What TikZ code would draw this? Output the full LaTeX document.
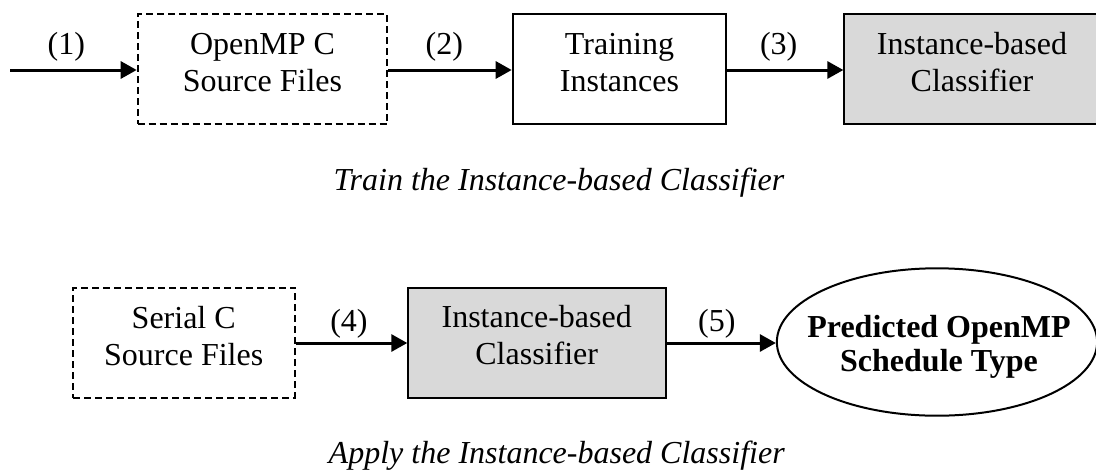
\documentclass[tikz,border=0pt]{standalone}
\usepackage{fontspec}
\setmainfont{Liberation Serif}
\usetikzlibrary{arrows.meta,shapes.geometric}
\definecolor{boxgray}{HTML}{D9D9D9}
\begin{document}
\begin{tikzpicture}[x=1pt,y=-1pt,
  txt/.style={font=\fontsize{32}{36.7}\selectfont, align=center, inner sep=0pt},
  stepbox/.style={draw, line width=2pt, minimum height=110pt, inner sep=0pt},
  dashbox/.style={stepbox, dash pattern=on 7pt off 4pt},
  graybox/.style={stepbox, fill=boxgray},
  conn/.style={line width=3pt, -{Triangle[length=16pt,width=17pt]}},
  lbl/.style={txt},
  caption/.style={font=\fontsize{32}{36.7}\selectfont\itshape, inner sep=0pt}]
\useasboundingbox (0,0) rectangle (1096,472);
\clip (0,0) rectangle (1096,472);
% top row
\coordinate (start) at (10,70);
\node[dashbox, minimum width=249.6pt] (src1) at (262.5,69.3) {};
\node[txt] (src1t) at (262.5,62.7) {OpenMP C\\Source Files};
\node[stepbox, minimum width=213pt] (train) at (619.2,69.3) {};
\node[txt] (traint) at (619.5,62.4) {Training\\Instances};
\node[graybox, minimum width=253.7pt] (clf1) at (971.2,69.3) {};
\node[txt] (clf1t) at (972,62.4) {Instance-based\\Classifier};
\draw[conn] (start) -- (src1.west |- start) node[lbl, midway, xshift=-7pt, yshift=23.3pt] {(1)};
\draw[conn] (src1.east |- start) -- (train.west |- start) node[lbl, midway, xshift=-5.7pt, yshift=23.3pt] {(2)};
\draw[conn] (train.east |- start) -- (clf1.west |- start) node[lbl, midway, xshift=-6.3pt, yshift=23.3pt] {(3)};
\node[caption] (cap1) at (559,182.5) {Train the Instance-based Classifier};
% bottom row
\coordinate (row2) at (0,343);
\node[dashbox, minimum width=221.7pt] (src2) at (184.2,342.5) {};
\node[txt] (src2t) at (183.7,336.2) {Serial C\\Source Files};
\node[graybox, minimum width=257.4pt] (clf2) at (537,343) {};
\node[txt] (clf2t) at (536.7,335.2) {Instance-based\\Classifier};
\node[draw, ellipse, line width=2pt, minimum width=320.3pt, minimum height=147.4pt, inner sep=0pt] (pred) at (937,342) {};
\node[inner sep=0pt, font=\fontsize{32}{34.5}\selectfont\bfseries, align=center] (predt) at (939,347) {Predicted OpenMP\\Schedule Type};
\draw[conn] (src2.east |- row2) -- (clf2.west |- row2) node[lbl, midway, xshift=-2.7pt, yshift=19pt] {(4)};
\draw[conn] (clf2.east |- row2) -- (pred.west |- row2) node[lbl, midway, xshift=-4.5pt, yshift=19pt] {(5)};
\node[caption] (cap2) at (556.7,455.8) {Apply the Instance-based Classifier};
\end{tikzpicture}
\end{document}
